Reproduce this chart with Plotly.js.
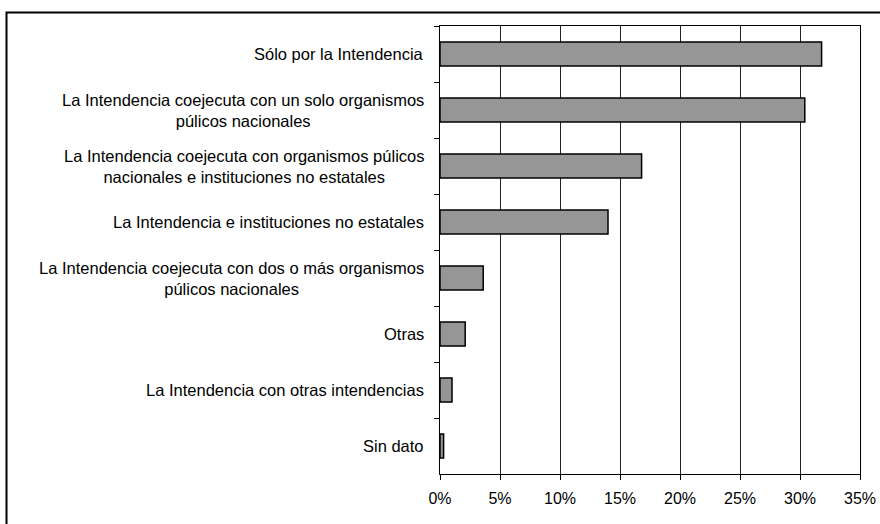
<!DOCTYPE html>
<html>
<head>
<meta charset="utf-8">
<script src="https://cdn.plot.ly/plotly-3.0.1.min.js"></script>
<style>
  html, body { margin: 0; padding: 0; background: #fff; }
  #chart { width: 880px; height: 524px; }
</style>
</head>
<body>
<div id="chart"></div>
<script>
// Categories, top to bottom
var categories = [
  "Sólo por la Intendencia",
  "La Intendencia coejecuta con un solo organismos<br>púlicos nacionales",
  "La Intendencia coejecuta con organismos púlicos<br>nacionales e instituciones no estatales",
  "La Intendencia e instituciones no estatales",
  "La Intendencia coejecuta con dos o más organismos<br>púlicos nacionales",
  "Otras",
  "La Intendencia con otras intendencias",
  "Sin dato"
];
// Percent values
var values = [31.8, 30.4, 16.8, 14.0, 3.6, 2.1, 1.0, 0.3];
var xTickVals = [0, 5, 10, 15, 20, 25, 30, 35];
var xTickText = ["0%", "5%", "10%", "15%", "20%", "25%", "30%", "35%"];

var trace = {
  type: "bar",
  orientation: "h",
  x: values,
  y: categories,
  width: 0.43,
  marker: { color: "#969696", line: { color: "#000", width: 1.5 } },
  hoverinfo: "x+y"
};

var annotations = categories.map(function (c) {
  return {
    text: c, xref: "paper", yref: "y", x: 0, y: c,
    xanchor: "right", yanchor: "middle", align: "center",
    xshift: -14, showarrow: false,
    font: { family: "Liberation Sans, Arial, sans-serif", size: 16.5, color: "#000" }
  };
});

var layout = {
  width: 880, height: 524,
  margin: { l: 440, r: 20, t: 26, b: 50 },
  paper_bgcolor: "#fff", plot_bgcolor: "#fff",
  showlegend: false,
  bargap: 0.57,
  font: { family: "Liberation Sans, Arial, sans-serif", size: 16, color: "#000" },
  xaxis: {
    range: [0, 35], tickvals: xTickVals, ticktext: xTickText,
    showgrid: true, gridcolor: "#222", gridwidth: 1,
    showline: true, linecolor: "#000", linewidth: 1, mirror: true,
    ticks: "outside", ticklen: 5, tickcolor: "#000", ticklabelstandoff: 5,
    zeroline: false, fixedrange: true
  },
  yaxis: {
    type: "category", autorange: "reversed",
    showticklabels: false, showgrid: false,
    showline: true, linecolor: "#000", linewidth: 1, mirror: true,
    ticks: "outside", ticklen: 5, tickcolor: "#000", tickson: "boundaries",
    zeroline: false, fixedrange: true
  },
  annotations: annotations,
  shapes: [{
    type: "rect", xref: "paper", yref: "paper",
    x0: (6.5 - 440) / 420, x1: 2, y0: -1, y1: 1 + (26 - 12.5) / 448,
    line: { color: "#000", width: 2 }, fillcolor: "rgba(0,0,0,0)", layer: "above"
  }]
};

Plotly.newPlot("chart", [trace], layout, { displayModeBar: false, staticPlot: true });
</script>
</body>
</html>
